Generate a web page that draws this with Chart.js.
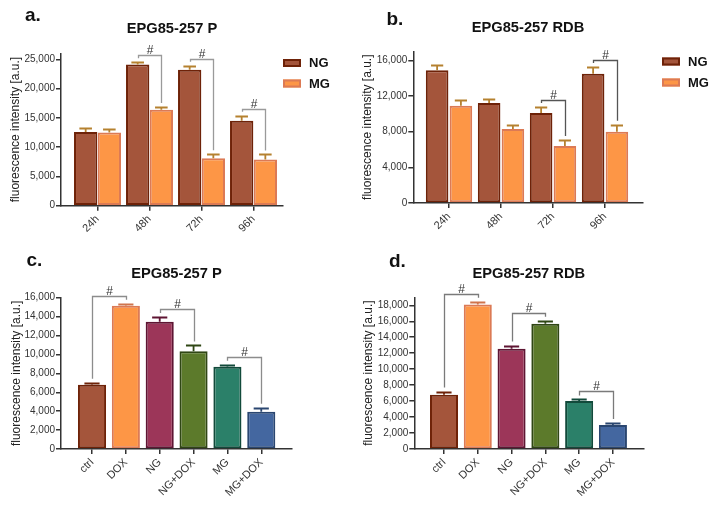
<!DOCTYPE html>
<html><head><meta charset="utf-8">
<script src="https://cdn.jsdelivr.net/npm/chart.js@4.4.1/dist/chart.umd.min.js"></script>
<style>
html,body{margin:0;padding:0;background:#fff;}
#wrap{position:relative;width:717px;height:505px;overflow:hidden;background:#fff;}
canvas{position:absolute;left:0;top:0;}
</style></head><body>
<div id="wrap">
<canvas id="ca" width="717" height="505"></canvas>
<canvas id="cb" width="717" height="505"></canvas>
<canvas id="cc" width="717" height="505"></canvas>
<canvas id="cd" width="717" height="505"></canvas>
</div>
<script>
// ---------- data ----------
const timeLabels = ['24h', '48h', '72h', '96h'];
const seriesNames = ['NG', 'MG'];
const pNG = [12600, 24100, 23200, 14500];
const pNGerr = [700, 400, 700, 850];
const pMG = [12500, 16400, 8100, 7900];
const pMGerr = [650, 450, 700, 850];
const rNG = [14900, 11200, 10100, 14500];
const rNGerr = [550, 450, 670, 750];
const rMG = [10900, 8300, 6400, 8000];
const rMGerr = [600, 480, 670, 780];
const treatLabels = ['ctrl', 'DOX', 'NG', 'NG+DOX', 'MG', 'MG+DOX'];
const pTreat = [6800, 15150, 13450, 10350, 8700, 3950];
const pTreatErr = [200, 200, 500, 600, 200, 400];
const rTreat = [6800, 18100, 12550, 15700, 6000, 3000];
const rTreatErr = [400, 350, 400, 350, 200, 250];
const yTicksA = [0, 5000, 10000, 15000, 20000, 25000];
const yTicksB = [0, 4000, 8000, 12000, 16000];
const yTicksC = [0, 2000, 4000, 6000, 8000, 10000, 12000, 14000, 16000];
const yTicksD = [0, 2000, 4000, 6000, 8000, 10000, 12000, 14000, 16000, 18000];
// significance pairs: [datasetA, indexA, datasetB, indexB]
const sigA = [[0, 1, 1, 1], [0, 2, 1, 2], [0, 3, 1, 3]];
const sigB = [[0, 2, 1, 2], [0, 3, 1, 3]];
const sigC = [[0, 0, 0, 1], [0, 2, 0, 3], [0, 4, 0, 5]];
const sigD = [[0, 0, 0, 1], [0, 2, 0, 3], [0, 4, 0, 5]];
const sigMark = '#';
const yTitle = 'fluorescence intensity [a.u.]';

// ---------- styles ----------
const FONT = '"Liberation Sans", Arial, Helvetica, sans-serif';
Chart.defaults.font.family = FONT;
const NG_FILL = '#a4553b', NG_EDGE = '#6e2208';
const MG_FILL = '#fd9646', MG_EDGE = '#dc7a55';
const ERR_GOLD = '#b5812f';
const treatFill = ['#a4553b', '#fd9646', '#9c3659', '#5c7a2b', '#2b8069', '#4467a0'];
const treatEdge = ['#6e2208', '#dc7a55', '#5e1533', '#2f4614', '#124a3b', '#2a4670'];
const treatErr = ['#6e2208', '#d0744c', '#5e1533', '#2f4614', '#124a3b', '#2a4670'];

const fmt = v => String(v).replace(/\B(?=(\d{3})+(?!\d))/g, ',');
const pts = arr => arr.map((v, i) => ({x: i, y: v}));

// ---------- plugins ----------
const errorBarPlugin = {
  id: 'errbars',
  afterDatasetsDraw(chart) {
    const ctx = chart.ctx, ys = chart.scales.y;
    chart.data.datasets.forEach((ds, di) => {
      const meta = chart.getDatasetMeta(di);
      meta.data.forEach((bar, i) => {
        const top = ys.getPixelForValue(ds.data[i].y + ds.errors[i]);
        const col = Array.isArray(ds.errorColor) ? ds.errorColor[i] : ds.errorColor;
        const half = bar.width * 0.27;
        const t = Math.round(top) + 0.5;
        ctx.save();
        ctx.strokeStyle = col; ctx.lineWidth = 1.8;
        ctx.beginPath();
        ctx.moveTo(bar.x, bar.y); ctx.lineTo(bar.x, t);
        ctx.moveTo(bar.x - half, t); ctx.lineTo(bar.x + half, t);
        ctx.stroke();
        ctx.restore();
      });
    });
  }
};
const sigPlugin = {
  id: 'sig',
  afterDatasetsDraw(chart, args, opts) {
    const ys = chart.scales.y, ctx = chart.ctx;
    (opts.pairs || []).forEach(p => {
      const [d1, i1, d2, i2] = p;
      const b1 = chart.getDatasetMeta(d1).data[i1], b2 = chart.getDatasetMeta(d2).data[i2];
      const s1 = chart.data.datasets[d1], s2 = chart.data.datasets[d2];
      const c1 = ys.getPixelForValue(s1.data[i1].y + s1.errors[i1]);
      const c2 = ys.getPixelForValue(s2.data[i2].y + s2.errors[i2]);
      const h = Math.round(Math.min(c1, c2) - opts.rise) + 0.5;
      const x1 = Math.round(b1.x) + 0.5, x2 = Math.round(b2.x) + 0.5;
      ctx.save();
      ctx.strokeStyle = opts.color; ctx.lineWidth = 1.3;
      ctx.beginPath();
      ctx.moveTo(x1, c1 - opts.gap); ctx.lineTo(x1, h); ctx.lineTo(x2, h); ctx.lineTo(x2, c2 - opts.gap);
      ctx.stroke();
      ctx.fillStyle = '#333';
      ctx.font = '12px ' + FONT;
      ctx.textAlign = 'center'; ctx.textBaseline = 'alphabetic';
      ctx.fillText(sigMark, (x1 + x2) / 2, h - 1.5);
      ctx.restore();
    });
  }
};
const panelTextPlugin = {
  id: 'paneltext',
  afterDraw(chart, args, o) {
    const ctx = chart.ctx, ca = chart.chartArea;
    ctx.save();
    ctx.fillStyle = '#111';
    ctx.textBaseline = 'alphabetic';
    ctx.textAlign = 'left';
    ctx.font = 'bold 19px ' + FONT;
    ctx.fillText(o.letter, o.lx, o.ly);
    ctx.textAlign = 'center';
    ctx.textBaseline = 'middle';
    ctx.font = 'bold 14.7px ' + FONT;
    ctx.fillText(o.title, (ca.left + ca.right) / 2, o.ty);
    ctx.restore();
  }
};
const legendPlugin = {
  id: 'boxlegend',
  afterDraw(chart, args, o) {
    if (!o.show) return;
    const ctx = chart.ctx;
    chart.data.datasets.forEach((ds, i) => {
      const cy = o.y + i * o.step;
      ctx.save();
      ctx.fillStyle = ds.backgroundColor;
      ctx.strokeStyle = ds.borderColor;
      ctx.lineWidth = 2;
      ctx.fillRect(o.x, cy - 4, 18, 8);
      ctx.strokeRect(o.x + 1, cy - 3, 16, 6);
      ctx.fillStyle = '#111';
      ctx.font = 'bold 13px ' + FONT;
      ctx.textBaseline = 'middle';
      ctx.textAlign = 'left';
      ctx.fillText(ds.label, o.x + 26, cy + 0.5);
      ctx.restore();
    });
  }
};

// ---------- chart builder ----------
function makeChart(id, cfg) {
  return new Chart(document.getElementById(id), {
    type: 'bar',
    data: { datasets: cfg.datasets },
    plugins: [errorBarPlugin, sigPlugin, panelTextPlugin, legendPlugin],
    options: {
      responsive: false, animation: false, devicePixelRatio: 1,
      layout: { padding: cfg.pad },
      datasets: { bar: { categoryPercentage: cfg.cat, barPercentage: cfg.barp, borderWidth: 2, borderSkipped: false } },
      plugins: {
        legend: { display: false }, tooltip: { enabled: false },
        sig: cfg.sig, paneltext: cfg.text, boxlegend: cfg.legend || { show: false }
      },
      scales: {
        x: {
          type: 'linear', min: cfg.xmin, max: cfg.xmax, offset: false,
          afterBuildTicks: s => { s.ticks = cfg.labels.map((_, i) => ({ value: i })); },
          afterFit: s => { s.height = 56; },
          ticks: { autoSkip: false, minRotation: 45, maxRotation: 45, padding: 2, color: '#333',
                   font: { size: 11 }, callback: v => cfg.labels[v] },
          grid: { offset: false, drawOnChartArea: false, drawTicks: true, tickLength: 5, color: '#333', lineWidth: 1.5 },
          border: { color: '#333', width: 1.5 }
        },
        y: {
          min: 0, max: cfg.ymax,
          afterBuildTicks: s => { s.ticks = cfg.yticks.map(v => ({ value: v })); },
          afterFit: s => { s.width = cfg.yw; },
          ticks: { padding: 1, color: '#333', font: { size: 10 }, callback: v => fmt(v) },
          grid: { drawOnChartArea: false, drawTicks: true, tickLength: 5, color: '#333', lineWidth: 1.5 },
          border: { color: '#333', width: 1.5 },
          title: { display: true, text: yTitle, color: '#222', font: { size: 12 } }
        }
      }
    }
  });
}

const timeSets = (ng, nge, mg, mge) => [
  { label: seriesNames[0], data: pts(ng), errors: nge, backgroundColor: NG_FILL, borderColor: NG_EDGE, errorColor: ERR_GOLD },
  { label: seriesNames[1], data: pts(mg), errors: mge, backgroundColor: MG_FILL, borderColor: MG_EDGE, errorColor: ERR_GOLD }
];
const treatSet = (vals, errs) => [
  { label: 'treat', data: pts(vals), errors: errs, backgroundColor: treatFill, borderColor: treatEdge, errorColor: treatErr }
];

makeChart('ca', {
  labels: timeLabels, datasets: timeSets(pNG, pNGerr, pMG, pMGerr),
  xmin: -0.702, xmax: 3.567, ymax: 26000, yticks: yTicksA, yw: 56.5,
  pad: { left: 4.5, right: 434, top: 53.4, bottom: 243.3 },
  cat: 0.91, barp: 0.985,
  sig: { pairs: sigA, color: '#9a9a9a', rise: 7, gap: 4 },
  text: { letter: 'a.', lx: 25, ly: 21, title: 'EPG85-257 P', ty: 28.7 },
  legend: { show: true, x: 283, y: 63, step: 20.5 }
});
makeChart('cb', {
  labels: timeLabels, datasets: timeSets(rNG, rNGerr, rMG, rMGerr),
  xmin: -0.687, xmax: 3.725, ymax: 17000, yticks: yTicksB, yw: 57.2,
  pad: { left: 356.1, right: 74.3, top: 51.4, bottom: 246 },
  cat: 0.915, barp: 0.95,
  sig: { pairs: sigB, color: '#555', rise: 7, gap: 4 },
  text: { letter: 'b.', lx: 386.5, ly: 25, title: 'EPG85-257 RDB', ty: 27.7 },
  legend: { show: true, x: 662, y: 61.5, step: 21 }
});
makeChart('cc', {
  labels: treatLabels, datasets: treatSet(pTreat, pTreatErr),
  xmin: -0.916, xmax: 5.908, ymax: 16000, yticks: yTicksC, yw: 55.5,
  pad: { left: 5.5, right: 425, top: 297.7, bottom: 0 },
  cat: 0.83, barp: 1,
  sig: { pairs: sigC, color: '#8c8c8c', rise: 8, gap: 4 },
  text: { letter: 'c.', lx: 26.5, ly: 266, title: 'EPG85-257 P', ty: 273.8 }
});
makeChart('cd', {
  labels: treatLabels, datasets: treatSet(rTreat, rTreatErr),
  xmin: -0.879, xmax: 5.899, ymax: 19000, yticks: yTicksD, yw: 57.2,
  pad: { left: 357.1, right: 73.7, top: 297.3, bottom: 0 },
  cat: 0.83, barp: 1,
  sig: { pairs: sigD, color: '#7a7a7a', rise: 8, gap: 4 },
  text: { letter: 'd.', lx: 389, ly: 267.3, title: 'EPG85-257 RDB', ty: 273.8 }
});
</script>
</body></html>
